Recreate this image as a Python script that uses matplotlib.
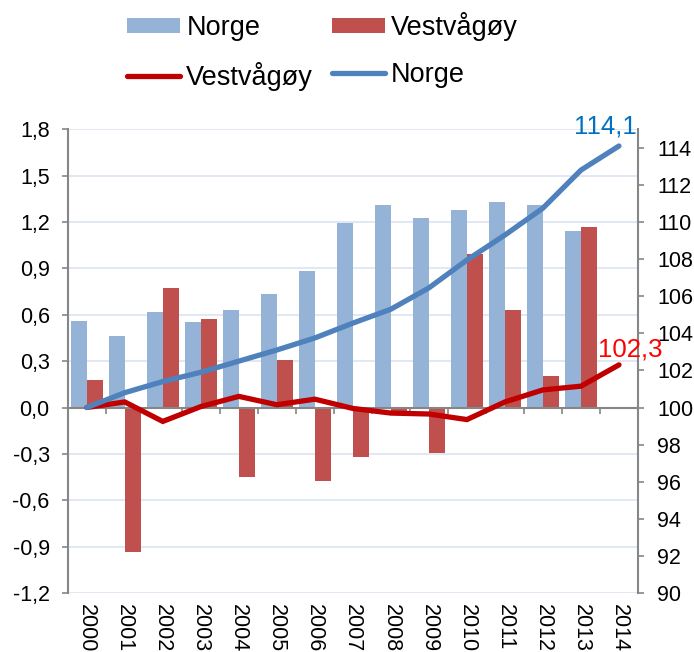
import matplotlib
matplotlib.use("Agg")
import matplotlib.pyplot as plt
import numpy as np
from matplotlib.lines import Line2D
from matplotlib.patches import Patch

plt.rcParams['font.family'] = ['Liberation Sans', 'DejaVu Sans']

years = [str(y) for y in range(2000, 2015)]
norge_bar = [0.56, 0.46, 0.62, 0.555, 0.63, 0.735, 0.88, 1.195, 1.31, 1.225, 1.28, 1.33, 1.31, 1.145, np.nan]
vest_bar = [0.18, -0.935, 0.775, 0.575, -0.45, 0.31, -0.475, -0.32, -0.03, -0.295, 0.99, 0.63, 0.205, 1.165, np.nan]
norge_line = [100.0, 100.8, 101.4, 101.9, 102.5, 103.1, 103.75, 104.55, 105.3, 106.45, 107.95, 109.3, 110.75, 112.8, 114.1]
vest_line = [100.0, 100.3, 99.25, 100.05, 100.6, 100.15, 100.45, 99.95, 99.7, 99.65, 99.35, 100.3, 100.95, 101.15, 102.3]
left_ticks = [-1.2, -0.9, -0.6, -0.3, 0.0, 0.3, 0.6, 0.9, 1.2, 1.5, 1.8]
left_labels = ["-1,2", "-0,9", "-0,6", "-0,3", "0,0", "0,3", "0,6", "0,9", "1,2", "1,5", "1,8"]
right_ticks = list(range(90, 115, 2))

C_NB = '#95b3d7'
C_VB = '#c0504d'
C_NL = '#4f81bd'
C_VL = '#c00000'
AX_C = '#868686'
GRID_C = '#dce6f2'

fig = plt.figure(figsize=(6.94, 6.52), dpi=100)
ax = fig.add_axes([0.0976, 0.0905, 0.8217, 0.7112])
x = np.arange(len(years))
w = 0.42

ax.bar(x - w / 2, norge_bar, w, color=C_NB, zorder=2)
ax.bar(x + w / 2, vest_bar, w, color=C_VB, zorder=2)

ax.set_xlim(-0.5, len(years) - 0.5)
ax.set_ylim(-1.2, 1.8)
ax.set_yticks(left_ticks)
ax.set_yticklabels(left_labels)
ax.yaxis.grid(True, color=GRID_C, linewidth=1.3, zorder=0)
ax.set_axisbelow(True)
ax.tick_params(axis='y', labelsize=15.5, length=4, width=1.2, color=AX_C, pad=9)

for s in ['top', 'right']:
    ax.spines[s].set_visible(False)
ax.spines['left'].set_color(AX_C)
ax.spines['left'].set_linewidth(1.5)
ax.spines['bottom'].set_position(('data', 0))
ax.spines['bottom'].set_color(AX_C)
ax.spines['bottom'].set_linewidth(1.5)
ax.spines['bottom'].set_zorder(3)
ax.set_xticks(x)
ax.set_xticklabels([])
ax.tick_params(axis='x', which='major', length=0)
ax.set_xticks(x[:-1] + 0.5, minor=True)
ax.tick_params(axis='x', which='minor', length=4, width=1.2, color=AX_C, direction='out')

sec = ax.secondary_xaxis(0.0)
sec.set_xticks(x)
sec.set_xticklabels(years, rotation=270, fontsize=15.5)
sec.tick_params(axis='x', length=0, pad=8)
sec.spines['bottom'].set_visible(False)

ax2 = ax.twinx()
ax2.set_ylim(90, 115)
ax2.set_yticks(right_ticks)
ax2.tick_params(axis='y', labelsize=15.5, length=4, width=1.2, color=AX_C, pad=10)
for s in ['top', 'left', 'bottom']:
    ax2.spines[s].set_visible(False)
ax2.spines['right'].set_color(AX_C)
ax2.spines['right'].set_linewidth(1.5)

ax2.plot(x, vest_line, color=C_VL, linewidth=3.8, solid_capstyle='round', solid_joinstyle='miter', zorder=3)
ax2.plot(x, norge_line, color=C_NL, linewidth=3.8, solid_capstyle='round', solid_joinstyle='miter', zorder=4)

ax2.annotate("114,1", xy=(x[-1], norge_line[-1]), xytext=(-10, 14), textcoords='offset points',
             ha='center', va='center', fontsize=18.5, color='#0070c0')
ax2.annotate("102,3", xy=(x[-1], vest_line[-1]), xytext=(8, 11), textcoords='offset points',
             ha='center', va='center', fontsize=18.5, color='#ff0000')

handles = [Patch(facecolor=C_NB, label='Norge'),
           Line2D([0], [0], color=C_VL, linewidth=3.8, solid_capstyle='round', label='Vestvågøy'),
           Patch(facecolor=C_VB, label='Vestvågøy'),
           Line2D([0], [0], color=C_NL, linewidth=3.8, solid_capstyle='round', label='Norge')]
fig.legend(handles=handles, ncol=2, loc='center', bbox_to_anchor=(0.465, 0.921),
           frameon=False, fontsize=19.5, handlelength=1.95, handleheight=0.5,
           handletextpad=0.23, columnspacing=0.7, labelspacing=0.75, borderpad=0)

fig.savefig('out.png', dpi=100)
